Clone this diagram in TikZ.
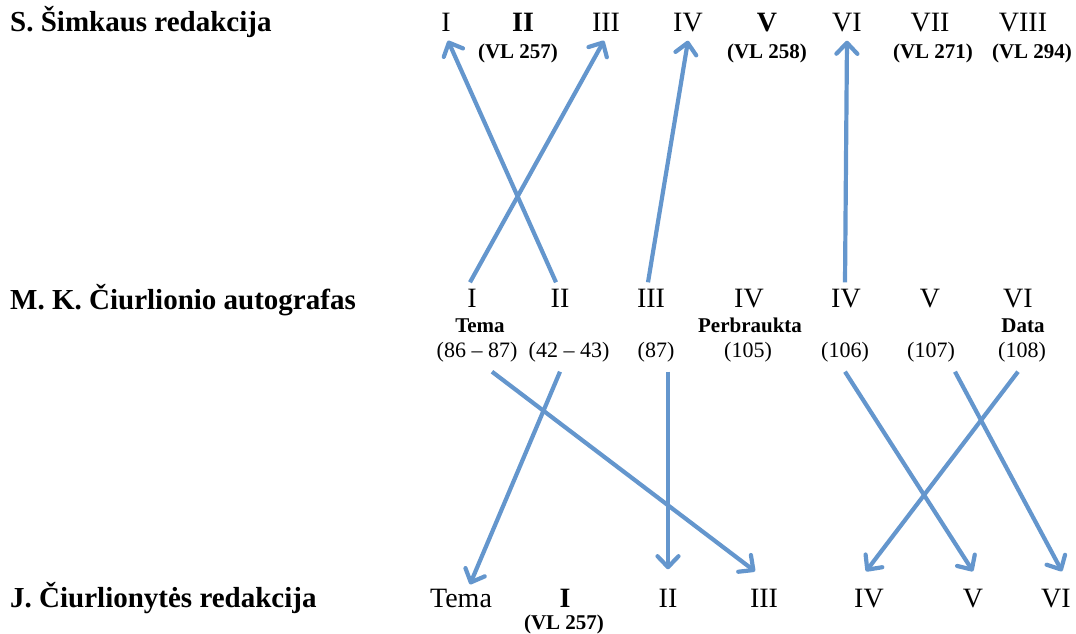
\documentclass[tikz,border=0pt]{standalone}
\usepackage{fontspec}
\setmainfont{Liberation Serif}
\usetikzlibrary{arrows.meta}

\definecolor{linkblue}{RGB}{100,150,205}

\begin{document}
\begin{tikzpicture}[x=1pt,y=-1pt,
    num/.style={font=\fontsize{28}{28}\selectfont, inner sep=0pt, text height=19pt, text depth=0pt},
    bnum/.style={num, font=\fontsize{28}{28}\selectfont\bfseries},
    note/.style={font=\fontsize{22}{22}\selectfont, inner sep=0pt, text height=15pt, text depth=4pt},
    bnote/.style={note, font=\fontsize{21}{21}\selectfont\bfseries},
    rowlabel/.style={font=\fontsize{29}{29}\selectfont\bfseries, anchor=west, inner sep=0pt},
    link/.style={draw=linkblue, line width=4.2pt, -{Straight Barb[round, length=11pt, width=21pt]}}]
\useasboundingbox (0,0) rectangle (1076,634);

% row labels
\node[rowlabel] (simkus) at (10,22) {S. Šimkaus redakcija};
\node[rowlabel] (autograph) at (10,300) {M. K. Čiurlionio autografas};
\node[rowlabel] (jadvyga) at (10,598) {J. Čiurlionytės redakcija};

% top row
\node[num] (t1) at (446,22) {I};
\node[bnum] (t2) at (523,22) {II};
\node[num] (t3) at (606,22) {III};
\node[num] (t4) at (688,22) {IV};
\node[bnum] (t5) at (767,22) {V};
\node[num] (t6) at (847,22) {VI};
\node[num] (t7) at (930,22) {VII};
\node[num] (t8) at (1023,22) {VIII};
\node[bnote] (vl2) at (518,53) {(VL 257)};
\node[bnote] (vl5) at (767,53) {(VL 258)};
\node[bnote] (vl7) at (933,53) {(VL 271)};
\node[bnote] (vl8) at (1032,53) {(VL 294)};

% middle row
\node[num] (m1) at (472,298) {I};
\node[num] (m2) at (560,298) {II};
\node[num] (m3) at (651,298) {III};
\node[num] (m4) at (749,298) {IV};
\node[num] (m5) at (846,298) {IV};
\node[num] (m6) at (930,298) {V};
\node[num] (m7) at (1018,298) {VI};
\node[bnote] (tema) at (480,327) {Tema};
\node[bnote] (crossed) at (750,327) {Perbraukta};
\node[bnote] (date) at (1023,327) {Data};
\node[note] (p1) at (477,352) {(86 -- 87)};
\node[note] (p2) at (569,352) {(42 -- 43)};
\node[note] (p3) at (656,352) {(87)};
\node[note] (p4) at (748,352) {(105)};
\node[note] (p5) at (845,352) {(106)};
\node[note] (p6) at (931,352) {(107)};
\node[note] (p7) at (1022,352) {(108)};

% bottom row
\node[num] (b0) at (461,598) {Tema};
\node[bnum] (b1) at (565,598) {I};
\node[num] (b2) at (668,598) {II};
\node[num] (b3) at (764,598) {III};
\node[num] (b4) at (869,598) {IV};
\node[num] (b5) at (973,598) {V};
\node[num] (b6) at (1056,598) {VI};
\node[bnote] (vl1) at (564,624) {(VL 257)};

% autograph -> Simkus
\draw[link] ([xshift=-2pt,yshift=6pt]m1.north) -- ([xshift=-2pt,yshift=-9pt]t3.south);
\draw[link] ([xshift=-4pt,yshift=6pt]m2.north) -- ([xshift=2pt,yshift=-9pt]t1.south);
\draw[link] ([xshift=-3pt,yshift=6pt]m3.north) -- ([yshift=-9pt]t4.south);
\draw[link] ([xshift=-1pt,yshift=6pt]m5.north) -- ([yshift=-9pt]t6.south);

% autograph -> Ciurlionyte
\draw[link] ([xshift=15pt,yshift=-10pt]p1.south) -- ([xshift=-9pt,yshift=17pt]b3.north);
\draw[link] ([xshift=-9pt,yshift=-10pt]p2.south) -- ([xshift=9pt,yshift=4pt]b0.north);
\draw[link] ([xshift=12pt,yshift=-10pt]p3.south) -- ([yshift=19pt]b2.north);
\draw[link] ([yshift=-10pt]p5.south) -- ([yshift=17pt]b5.north);
\draw[link] ([xshift=-4pt,yshift=-10pt]p7.south) -- ([xshift=-3pt,yshift=17pt]b4.north);
\draw[link] ([xshift=24pt,yshift=-10pt]p6.south) -- ([xshift=6pt,yshift=17pt]b6.north);
\end{tikzpicture}
\end{document}
